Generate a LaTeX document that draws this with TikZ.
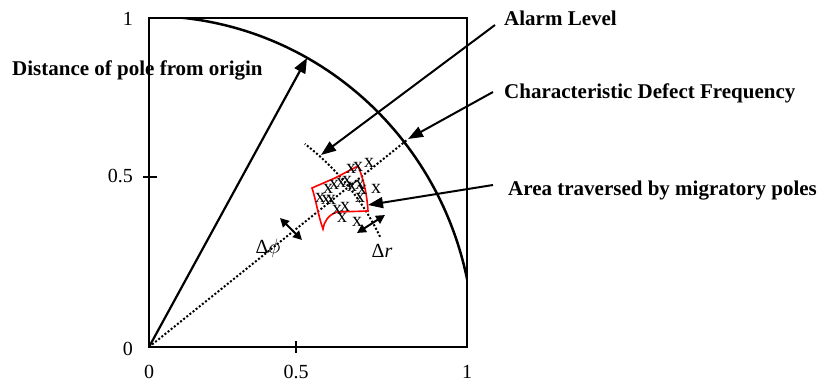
\documentclass[tikz,border=0pt]{standalone}
\usepackage{fontspec}
\setmainfont{Liberation Serif}
\usetikzlibrary{arrows.meta}
\begin{document}
\begin{tikzpicture}[x=1pt,y=-1pt,
  lbl/.style={font=\fontsize{21}{25}\selectfont\bfseries, anchor=base west, inner sep=0pt},
  ticklbl/.style={font=\fontsize{20}{24}\selectfont, inner sep=0pt},
  pmark/.style={font=\fontsize{20}{22}\selectfont, inner sep=0pt},
  arr/.style={line width=2pt, -{Triangle[length=15pt,width=11pt]}},
  darr/.style={line width=2pt, {Triangle[length=9pt,width=9pt]}-{Triangle[length=9pt,width=9pt]}},
  dots/.style={line width=2pt, dash pattern=on 2pt off 2pt},
  frame/.style={line width=1.5pt},
]
\useasboundingbox (0,0) rectangle (822,382);

% frame and ticks
\draw[frame] (149,18) rectangle (467,347);
\draw[frame] (143,177) -- (157,177);
\draw[frame] (296,341) -- (296,353);

% tick labels
\node[ticklbl, anchor=base east] (y1) at (133,26) {1};
\node[ticklbl, anchor=base east] (y05) at (133,183) {0.5};
\node[ticklbl, anchor=base east] (y0) at (133,355) {0};
\node[ticklbl, anchor=base] (x0) at (149,378) {0};
\node[ticklbl, anchor=base] (x05) at (296,378) {0.5};
\node[ticklbl, anchor=base] (x1) at (467,378) {1};

% unit circle (clipped to the frame)
\begin{scope}
  \clip (149,18) rectangle (467,347);
  \draw[line width=2.5pt] plot[domain=0:90, samples=120] ({149+325*cos(\x)}, {347-331*sin(\x)});
\end{scope}

% alarm level dotted arc
\draw[dots] plot[domain=25.5:52.5, samples=60] ({149+256*cos(\x)}, {347-256*sin(\x)});

% coordinates
\coordinate (O) at (149,347);
\coordinate (P) at (307,58);
\coordinate (D) at (407,140);
\coordinate (a1) at (495,25);
\coordinate (a2) at (321,155);
\coordinate (c1) at (493,92);
\coordinate (c2) at (408,139);
\coordinate (r1) at (493,185);
\coordinate (r2) at (368,205);
\coordinate (f1) at (280,218);
\coordinate (f2) at (302,240);
\coordinate (d1) at (357,233);
\coordinate (d2) at (385,215);

% radial lines
\draw[dots] (O) -- (D);
\draw[line width=2.2pt, -{Triangle[length=15pt,width=12pt]}] (O) -- (P);

% red area
\draw[red, line width=1.6pt] (312,188) -- (335,178) -- (358,166)
  .. controls (364,180) and (367,195) .. (368,211) -- (337,212)
  .. controls (328,215) and (324,222) .. (323,229)
  .. controls (318,215) and (316,200) .. (312,188) -- cycle;

% pole marks
\foreach \mx/\my [count=\i] in {351/169, 358/167, 369/163, 328/189, 334/185, 341/183, 347/181,
  352/187, 360/185, 362/190, 376/189, 320/198, 326/200, 331/200, 360/198, 337/210,
  345/207, 342/218, 357/222}
  { \node[pmark] (m\i) at (\mx,\my) {x}; }

% labels
\node[lbl] (dist) at (12,76) {Distance of pole from origin};
\node[lbl] (alarm) at (504,26) {Alarm Level};
\node[lbl] (cdf) at (504,99) {Characteristic Defect Frequency};
\node[lbl] (area) at (508,196) {Area traversed by migratory poles};

% callout arrows
\draw[arr] (a1) -- (a2);
\draw[arr] (c1) -- (c2);
\draw[arr] (r1) -- (r2);

% delta arrows and labels
\draw[darr] (f1) -- (f2);
\draw[darr] (d1) -- (d2);
\node[ticklbl] (dphi) at (268,248) {Δ$\phi$};
\node[ticklbl] (dr) at (382,251) {Δ\textit{r}};
\end{tikzpicture}
\end{document}
